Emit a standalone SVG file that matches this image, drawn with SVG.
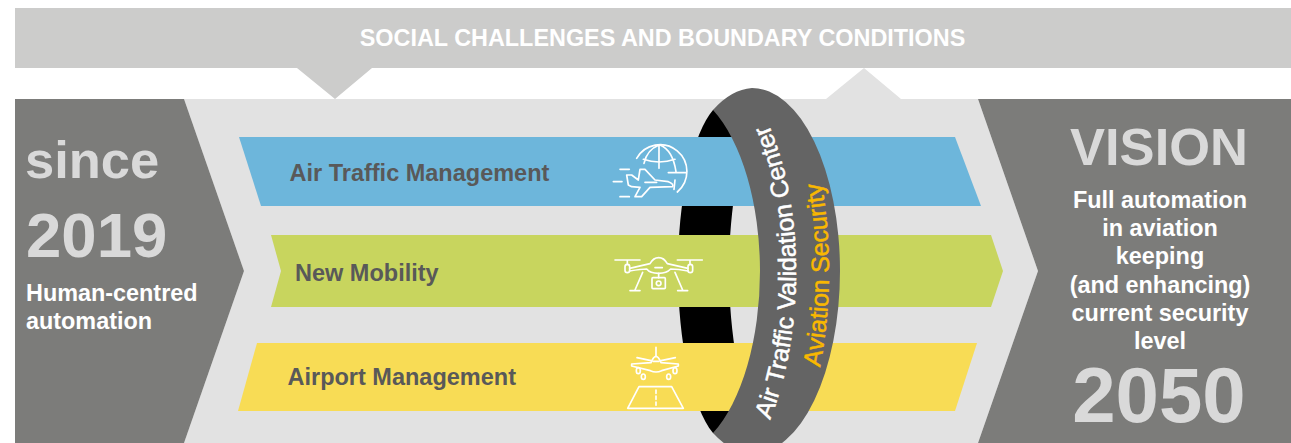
<svg xmlns="http://www.w3.org/2000/svg" width="1291" height="443" viewBox="0 0 1291 443">
<style>
text{font-family:"Liberation Sans",Arial,sans-serif}
.w{fill:#fff;font-size:23.4px;font-weight:700}
.lab{fill:#595959;font-size:23.5px;font-weight:700}
.big{fill:#d9d9d9;font-weight:700}
.m{text-anchor:middle}
.ic{fill:none;stroke:#fff;stroke-width:5;stroke-linecap:round;stroke-linejoin:round}
</style>
<defs>
<path id="p1" d="M760,440C788,390 796,320 796,271C796,220 788,160 759,104"/>
<path id="p2" d="M812,400C824,360 829,310 829,271C829,230 824,185 814,150"/>
</defs>
<rect width="1291" height="443" fill="#fff"/>
<g id="top-band">
<path d="M15,8H1291V68H372L335,99L297,68H15Z" fill="#cccccb"/>
<text class="w m" x="662.500" y="45.500">SOCIAL CHALLENGES AND BOUNDARY CONDITIONS</text>
</g>
<g id="background">
<path d="M184,99H826L864,68L901,99H978L1038,271L978,443H184L244,271Z" fill="#e2e2e2"/>
</g>
<g id="ring-back">
<path d="M713,110C692,135 678,200 678,271C678,342 692,407 713,433L760,440C740,400 729,330 729,271C729,212 740,140 760,102Z" fill="#000"/>
</g>
<g id="since">
<path d="M15,99H184L244,271L184,443H15Z" fill="#7c7c7a"/>
<text class="big" x="25" y="178" font-size="52.500">since</text>
<text class="big" x="26" y="257" font-size="63.500">2019</text>
<text class="w" x="26" y="300.500">Human-centred</text>
<text class="w" x="26" y="328.500">automation</text>
</g>
<g id="vision">
<path d="M978,99H1291V443H978L1038,271Z" fill="#7c7c7a"/>
<text class="big m" x="1159" y="164.500" font-size="52.500">VISION</text>
<text class="w m" x="1160" y="208">Full automation</text>
<text class="w m" x="1160" y="236">in aviation</text>
<text class="w m" x="1160" y="264">keeping</text>
<text class="w m" x="1160" y="293">(and enhancing)</text>
<text class="w m" x="1160" y="321">current security</text>
<text class="w m" x="1160" y="349">level</text>
<text class="big m" x="1159" y="422" font-size="78">2050</text>
</g>
<g id="air-traffic-management">
<path d="M239,137H955L981,206H261Z" fill="#6db6db"/>
<text class="lab" x="289.500" y="181">Air Traffic Management</text>
<g class="ic" transform="translate(600,130) scale(.3333)">
<path d="M110,85A80.500,80.500 0 1 1 232,186"/>
<path d="M177,45V115M130,88Q177,104 225,88M205,128H258M177,45C152,55 138,72 132,100M180,45C205,55 222,85 228,125M225,150L222,178"/>
<path d="M80,135H95L115,150L120,118H135L165,150L205,155Q222,162 218,170L150,172L125,200H105L120,172L95,170L85,165Z"/>
<path d="M60,118H88M40,155H66M60,200H88M135,157H170"/>
</g>
</g>
<g id="new-mobility">
<path d="M271,235H991L1003,271L991,307H271L281,271Z" fill="#c8d55e"/>
<text class="lab" x="295" y="281">New Mobility</text>
<g class="ic" transform="translate(600,245) scale(.3333)">
<path d="M45,45H120M232,45H307M82,45V58M270,45V58"/>
<rect x="75" y="58" width="14" height="25" rx="7"/><rect x="264" y="58" width="14" height="25" rx="7"/>
<path d="M89,70L150,56Q160,38 176,38Q192,38 202,56L264,70M89,78Q125,72 140,72Q150,85 176,85Q200,85 212,72Q235,72 264,78M165,68H187"/>
<path d="M128,82L105,135M90,137H120M225,82L248,135M233,137H263M176,85V98"/>
<rect x="156" y="98" width="40" height="33" rx="3"/><circle cx="176" cy="115" r="7"/>
</g>
</g>
<g id="airport-management">
<path d="M257,343H977L955,411H238Z" fill="#f8dc55"/>
<text class="lab" x="287.500" y="385">Airport Management</text>
<g class="ic" transform="translate(615,340) scale(.3333)">
<path d="M123,22V50M66,53L108,62M181,53L138,62"/>
<path d="M108,68Q123,30 138,68L190,72V78L140,92Q123,100 106,92L50,78V72Z"/>
<path d="M114,64H132"/>
<ellipse cx="70" cy="92" rx="6" ry="9"/><ellipse cx="180" cy="92" rx="6" ry="9"/><ellipse cx="85" cy="110" rx="6" ry="8"/><ellipse cx="161" cy="110" rx="6" ry="8"/>
<path d="M72,140H170L205,205H38Z"/>
<path d="M123,150V160M123,168V178M123,186V196"/>
</g>
</g>
<g id="air-traffic-validation-center">
<path d="M713,110A88,183 0 0 1 752,88A88,183 0 0 1 840,271A88,183 0 0 1 752,454A88,183 0 0 1 713,433A88,183 0 0 0 760,271A88,183 0 0 0 713,110Z" fill="#646464"/>
<text class="m" font-size="25" fill="#fff" stroke="#fff" stroke-width=".5"><textPath href="#p1" startOffset="50%">Air Traffic Validation Center</textPath></text>
<text class="m" font-size="25" fill="#f9b800" stroke="#f9b800" stroke-width=".5"><textPath href="#p2" startOffset="50%">Aviation Security</textPath></text>
</g>
</svg>
